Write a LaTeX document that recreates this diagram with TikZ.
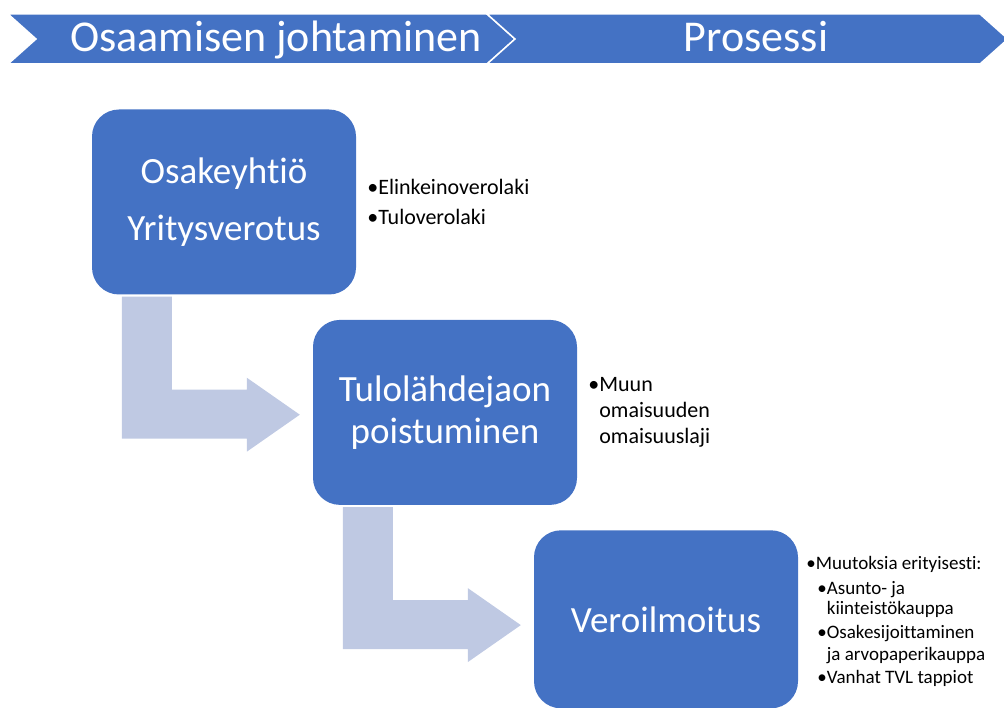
\documentclass[tikz,border=0pt]{standalone}
\usepackage{fontspec}
\setmainfont{Carlito}[RawFeature={-liga;-clig;-dlig;-calt}]
\usetikzlibrary{positioning}
\definecolor{boxblue}{HTML}{4472C4}
\definecolor{arrowblue}{HTML}{BFC9E3}
\tikzstyle{boxes} = [rectangle, rounded corners=27pt, minimum width=264pt, minimum height=185pt, fill=boxblue, text=white, align=center, font=\fontsize{37}{42}\selectfont]
\tikzstyle{notes} = [anchor=west, align=left, inner sep=0pt, text=black]
\tikzstyle{flow} = [fill=arrowblue]
\tikzstyle{chevron} = [fill=boxblue, draw=white, line width=1.5pt]
\tikzstyle{banner} = [text=white, anchor=base, font=\fontsize{44}{48}\selectfont]

\begin{document}
\begin{tikzpicture}[x=1pt, y=-1pt]
    \clip (0,0) rectangle (1004,708);

    % banner
    \fill[chevron] (8,14) -- (487,14) -- (515,39) -- (487,64) -- (8,64) -- (36,39) -- cycle;
    \fill[chevron] (487,14) -- (980,14) -- (1008,39) -- (980,64) -- (487,64) -- (515,39) -- cycle;
    \node (lead) [banner] at (276,52) {Osaamisen johtaminen};
    \node (proc) [banner] at (756,52) {Prosessi};

    \node (yhtio) [boxes] at (224,202) {Osakeyht\kern0pt iö\\[15pt]Yritysverotus};

    \node (tulo) [boxes, below=25pt of yhtio, xshift=221pt] {Tulolähdejaon\\poistuminen};

    \node (vero) [boxes, minimum height=178pt, below=25pt of tulo, xshift=221pt] {\raisebox{-3pt}{Veroilmoitus}};

    \node (lait) [notes, right=11pt of yhtio, font=\fontsize{22}{30}\selectfont] {•Elinkeinoverolaki\\•Tuloverolaki};

    \node (laji) [notes, right=11pt of tulo, font=\fontsize{22}{26}\selectfont] {•Muun\\\hphantom{•}omaisuuden\\\hphantom{•}omaisuuslaji};

    \node (muut) [notes, right=8pt of vero, yshift=-2pt, font=\fontsize{19}{20}\selectfont] {•Muutoksia erityisesti:\\[5pt]
        \hspace{11pt}•Asunto- ja\\
        \hspace{11pt}\hphantom{•}kiinteistökauppa\\[4pt]
        \hspace{11pt}•Osakesijoittaminen\\[2pt]
        \hspace{11pt}\hphantom{•}ja arvopaperikauppa\\[3pt]
        \hspace{11pt}•Vanhat TVL tappiot};

    % bent arrows
    \fill[flow, shift={(yhtio.south west)}] (30,2) -- (80,2) -- (80,95) -- (155,95) -- (155,83) -- (208,120) -- (155,157) -- (155,144) -- (30,144) -- cycle;
    \fill[flow, shift={(tulo.south west)}] (30,2) -- (80,2) -- (80,95) -- (155,95) -- (155,83) -- (208,120) -- (155,157) -- (155,144) -- (30,144) -- cycle;

\end{tikzpicture}
\end{document}
